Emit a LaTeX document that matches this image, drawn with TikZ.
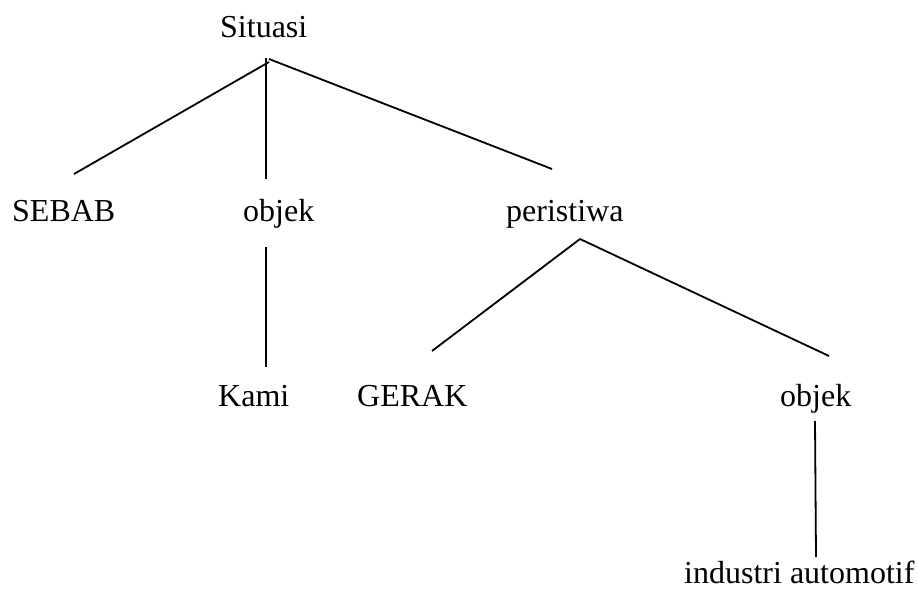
\documentclass[tikz,border=0pt]{standalone}
\usepackage{fontspec}
\setmainfont{Liberation Serif}
\begin{document}
\begin{tikzpicture}[x=1pt,y=-1pt,
  lbl/.style={anchor=base west,inner sep=0pt,font=\fontsize{32}{38}\selectfont},
  edge/.style={line width=1.8pt}]
\useasboundingbox[fill=white] (0,0) rectangle (918,591);
\node[lbl] (sit) at (220,38) {Situasi};
\node[lbl] (sebab) at (12,221) {SEBAB};
\node[lbl] (obj1) at (243,221) {objek};
\node[lbl] (per) at (506,221) {peristiwa};
\node[lbl] (kami) at (218,406) {Kami};
\node[lbl] (gerak) at (357,406) {GERAK};
\node[lbl] (obj2) at (780,406) {objek};
\node[lbl] (ind) at (684,583) {industri automotif};
% connector ends
\coordinate (sA) at (269,62);
\coordinate (sV) at (266,58);
\coordinate (sR) at (269,59);
\coordinate (sebabT) at (74,174);
\coordinate (obj1T) at (266,179);
\coordinate (perT) at (552,169);
\coordinate (obj1B) at (266,247);
\coordinate (kamiT) at (266,367);
\coordinate (pA) at (580,239);
\coordinate (gerakT) at (432,351);
\coordinate (obj2T) at (829,356);
\coordinate (obj2B) at (815,421);
\coordinate (indT) at (816,557);
\draw[edge] (sA) -- (sebabT);
\draw[edge] (sV) -- (obj1T);
\draw[edge] (sR) -- (perT);
\draw[edge] (obj1B) -- (kamiT);
\draw[edge] (pA) -- (gerakT);
\draw[edge] (pA) -- (obj2T);
\draw[edge] (obj2B) -- (indT);
\end{tikzpicture}
\end{document}
